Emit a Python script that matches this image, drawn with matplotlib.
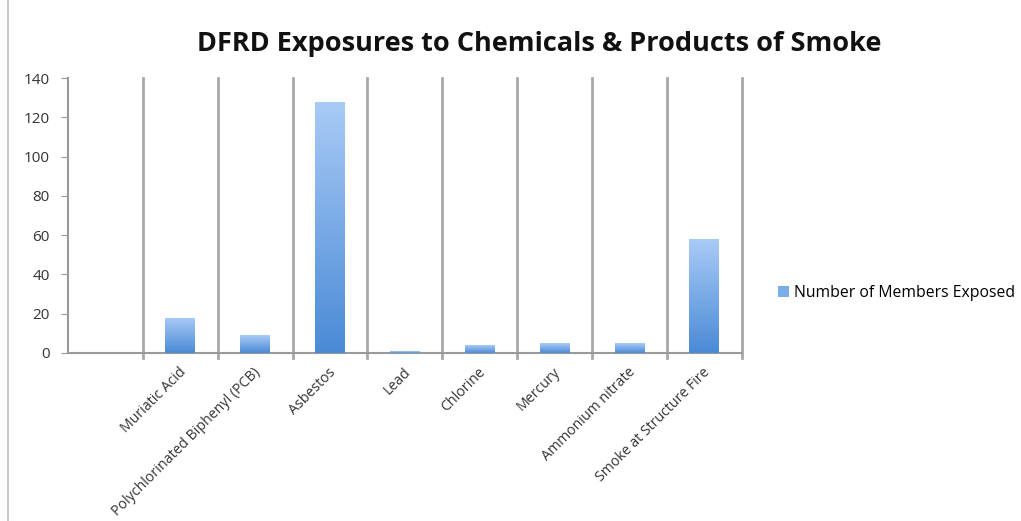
import matplotlib.pyplot as plt
import numpy as np
from matplotlib.patches import Patch
from matplotlib.lines import Line2D
from matplotlib.colors import LinearSegmentedColormap
from matplotlib.transforms import ScaledTranslation, blended_transform_factory

categories = ['', 'Muriatic Acid', 'Polychlorinated Biphenyl (PCB)', 'Asbestos', 'Lead',
              'Chlorine', 'Mercury', 'Ammonium nitrate', 'Smoke at Structure Fire']
members_exposed = [0, 18, 9, 128, 1, 4, 5, 5, 58]
y_ticks = [0, 20, 40, 60, 80, 100, 120, 140]

plt.rcParams['font.family'] = ['Open Sans', 'DejaVu Sans']

fig = plt.figure(figsize=(10.21, 5.21), dpi=100)
ax = fig.add_axes([0.0666, 0.3225, 0.66, 0.5275])

x = np.arange(len(categories))
bars = ax.bar(x, members_exposed, width=0.4, color='#5b9be0', zorder=3)

# vertical gradient inside each bar (light top, darker bottom)
grad = np.linspace(0, 1, 256).reshape(-1, 1)
cmap = LinearSegmentedColormap.from_list('bar', ['#4a8ad6', '#a9cbf6'])
for b in bars:
    h = b.get_height()
    if h <= 0:
        continue
    bx = b.get_x()
    w = b.get_width()
    im = ax.imshow(grad, extent=[bx, bx + w, 0, h], origin='lower', cmap=cmap,
                   aspect='auto', zorder=4)
    im.set_clip_path(b)

ax.set_xlim(-0.5, len(categories) - 0.5)
ax.set_ylim(0, 140)
ax.set_yticks(y_ticks)
ax.set_xticks(x)
ax.set_xticklabels([])
ax.tick_params(axis='x', length=0)
ax.tick_params(axis='y', length=5, color='#9a9a9a', labelsize=11, labelcolor='#333333', pad=8)

# rotated category labels
trans = blended_transform_factory(ax.transData, ax.transAxes) + \
    ScaledTranslation(-2 / 100, -12 / 100, fig.dpi_scale_trans)
for xi, name in zip(x, categories):
    ax.text(xi, 0, name, transform=trans, rotation=45, ha='right', va='top',
            rotation_mode='anchor', fontsize=10.2, color='#333333', clip_on=False)

for s in ['top', 'right']:
    ax.spines[s].set_visible(False)
for s in ['left', 'bottom']:
    ax.spines[s].set_color('#9a9a9a')
    ax.spines[s].set_linewidth(1.5)

# category separators
for b in np.arange(0.5, len(categories), 1.0):
    ax.plot([b, b], [-2.5, 140], color='#a8a8a8', lw=2, zorder=1, clip_on=False)

fig.suptitle('DFRD Exposures to Chemicals & Products of Smoke', x=0.528, y=0.94,
             fontsize=19.5, fontweight='bold', color='#111111')

fig.legend(handles=[Patch(facecolor='#7aaee8', edgecolor='none', label='Number of Members Exposed')],
           loc='center left', bbox_to_anchor=(0.748, 0.437), frameon=False,
           fontsize=11.3, handlelength=0.7, handleheight=0.7, handletextpad=0.3)

# frame line on left side of the image
fig.add_artist(Line2D([0.008, 0.008], [0, 1], color='#c8c8c8', lw=1.5))

fig.savefig('out.png', dpi=100)
